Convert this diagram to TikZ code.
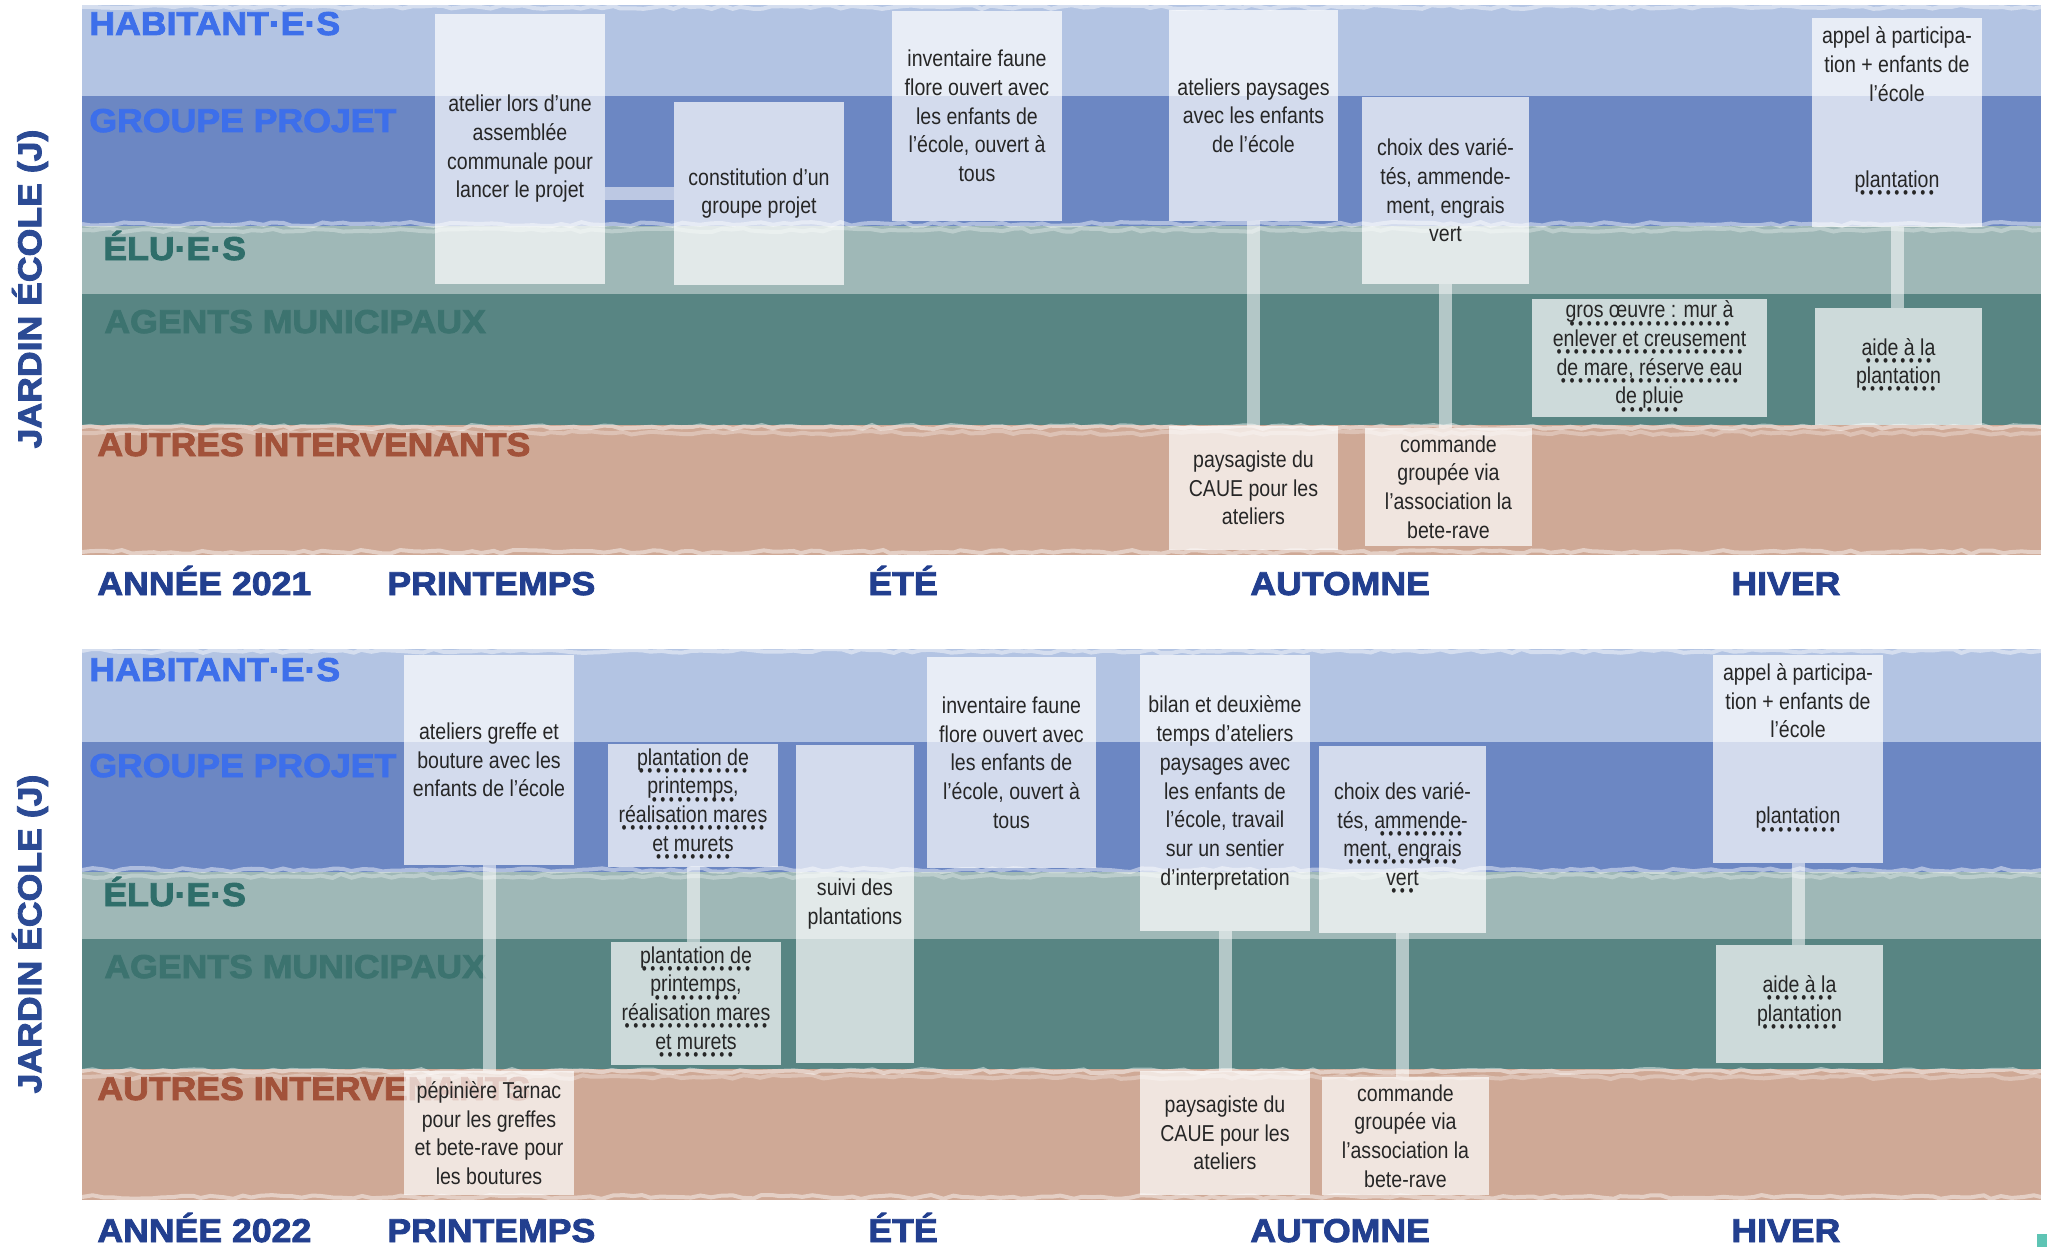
\documentclass[tikz,border=0pt]{standalone}
\usepackage{fontspec}
\usepackage{xcolor}
\usepackage{tikz}
\usetikzlibrary{decorations.pathmorphing}

\setmainfont{Liberation Sans}
\newfontfamily\boxfont[FakeStretch=0.85]{Liberation Sans}
\newfontfamily\labfont[FakeStretch=1.08,FakeBold=2.6]{Liberation Sans Bold}

\definecolor{habband}{HTML}{B3C4E3}
\definecolor{grpband}{HTML}{6C87C3}
\definecolor{eluband}{HTML}{9FB8B7}
\definecolor{agtband}{HTML}{588583}
\definecolor{autband}{HTML}{CFA996}
\definecolor{blueword}{HTML}{3D6FEA}
\definecolor{eluword}{HTML}{2F6E6A}
\definecolor{agtword}{HTML}{3C736F}
\definecolor{autword}{HTML}{A2523A}
\definecolor{season}{HTML}{223F8F}
\definecolor{sidetitle}{HTML}{2B4A94}
\definecolor{boxtext}{HTML}{262626}
\definecolor{cornermark}{HTML}{5EC4B4}

% pointillés sous le texte
\newsavebox\ulbox
\newcommand\dotul[1]{\sbox\ulbox{#1}\rlap{\lower5.6pt\hbox to\wd\ulbox{\cleaders\hbox to 4.3pt{\hss\fontsize{8.5}{8.5}\selectfont •\hss}\hfill}}\usebox\ulbox}
% ligne vide finale
\newcommand\padline{\rule[-1pt]{0pt}{1pt}}

\begin{document}
\begin{tikzpicture}[x=0.5pt,y=-0.5pt,
  box/.style={fill=white,fill opacity=.7,text opacity=1,text=boxtext,align=center,inner sep=0pt,
    font=\boxfont\fontsize{11.5}{14.35}\selectfont},
  wh/.style 2 args={minimum width=#1*0.5pt,minimum height=#2*0.5pt},
  link/.style={draw=white,draw opacity=.55,line width=6.5pt},
  band/.style={font=\labfont\fontsize{16.5}{18}\selectfont,anchor=base west,inner sep=0pt},
  side/.style={font=\labfont\fontsize{16.5}{18}\selectfont,text=sidetitle,rotate=90,inner sep=0pt},
  rough/.style={draw=white,draw opacity=.45,line width=2pt,decorate,
    decoration={random steps,segment length=5pt,amplitude=1pt}}]
\pgfmathsetseed{11}
\useasboundingbox (0,0) rectangle (2047,1247);

% ---- 2021 ----
\fill[habband] (82,5) rectangle (2041,96);
\fill[grpband] (82,96) rectangle (2041,226);
\fill[eluband] (82,226) rectangle (2041,294);
\fill[agtband] (82,294) rectangle (2041,425);
\fill[autband] (82,425) rectangle (2041,555);
\draw[rough] (82,7) -- (2041,7);
\draw[rough] (82,224) -- (2041,224);
\draw[rough,draw opacity=.3] (82,230) -- (2041,230);
\draw[rough] (82,427) -- (2041,427);
\draw[rough,draw opacity=.3] (82,433) -- (2041,433);
\draw[rough] (82,552) -- (2041,552);

\node[band,text=blueword] (hab1) at (89,35) {HABITANT·E·S};
\node[band,text=blueword] (grp1) at (89,132) {GROUPE PROJET};
\node[band,text=eluword] (elu1) at (103,260) {ÉLU·E·S};
\node[band,text=agtword] (agt1) at (104,333) {AGENTS MUNICIPAUX};
\node[band,text=autword] (aut1) at (97,456) {AUTRES INTERVENANTS};
\node[band,text=season] (an1) at (97,595) {ANNÉE 2021};
\node[band,text=season] (pri1) at (387,595) {PRINTEMPS};
\node[band,text=season] (ete1) at (868,595) {ÉTÉ};
\node[band,text=season] (aut1s) at (1250,595) {AUTOMNE};
\node[band,text=season] (hiv1) at (1731,595) {HIVER};
\node[side] (jar1) at (30,289) {JARDIN ÉCOLE (J)};

\node[box,wh={170}{270}] (atelier) at (520,149) {atelier lors d’une\\assemblée\\communale pour\\lancer le projet};
\node[box,wh={170}{183}] (constit) at (759,193.5) {constitution d’un\\groupe projet};
\node[box,wh={170}{210}] (invent1) at (977,116) {inventaire faune\\flore ouvert avec\\les enfants de\\l’école, ouvert à\\tous};
\node[box,wh={169}{211}] (paysag1) at (1253.5,115.5) {ateliers paysages\\avec les enfants\\de l’école};
\node[box,wh={167}{187}] (choix1) at (1445.5,190.5) {choix des varié-\\tés, ammende-\\ment, engrais\\vert};
\node[box,wh={169}{124}] (caue1) at (1253.5,488) {paysagiste du\\CAUE pour les\\ateliers};
\node[box,wh={167}{118}] (cmd1) at (1448.5,487) {commande\\groupée via\\l’association la\\bete-rave};
\node[box,wh={235}{118}] (gros) at (1649.5,358) {\dotul{gros œuvre : mur à}\\\dotul{enlever et creusement}\\\dotul{de mare, réserve eau}\\\dotul{de pluie}};
\node[box,wh={170}{209}] (appel1) at (1897,122.5) {appel à participa-\\tion + enfants de\\l’école\\\strut\\\strut\\\dotul{plantation}\\\padline};
\node[box,wh={167}{117}] (aide1) at (1898.5,366.5) {\dotul{aide à la}\\\dotul{plantation}};

\draw[link] (atelier.east |- constit.west) -- (constit.west);
\draw[link] (paysag1.south) -- (paysag1.south |- caue1.north);
\draw[link] (choix1.south) -- (choix1.south |- cmd1.north);
\draw[link] (appel1.south) -- (appel1.south |- aide1.north);

% ---- 2022 ----
\fill[habband] (82,649) rectangle (2041,742);
\fill[grpband] (82,742) rectangle (2041,872);
\fill[eluband] (82,872) rectangle (2041,939);
\fill[agtband] (82,939) rectangle (2041,1069);
\fill[autband] (82,1069) rectangle (2041,1200);
\draw[rough] (82,651) -- (2041,651);
\draw[rough] (82,870) -- (2041,870);
\draw[rough,draw opacity=.3] (82,876) -- (2041,876);
\draw[rough] (82,1071) -- (2041,1071);
\draw[rough,draw opacity=.3] (82,1077) -- (2041,1077);
\draw[rough] (82,1197) -- (2041,1197);

\node[band,text=blueword] (hab2) at (89,681) {HABITANT·E·S};
\node[band,text=blueword] (grp2) at (89,777) {GROUPE PROJET};
\node[band,text=eluword] (elu2) at (103,906) {ÉLU·E·S};
\node[band,text=agtword] (agt2) at (104,978) {AGENTS MUNICIPAUX};
\node[band,text=autword] (aut2) at (97,1100) {AUTRES INTERVENANTS};
\node[band,text=season] (an2) at (97,1242) {ANNÉE 2022};
\node[band,text=season] (pri2) at (387,1242) {PRINTEMPS};
\node[band,text=season] (ete2) at (868,1242) {ÉTÉ};
\node[band,text=season] (aut2s) at (1250,1242) {AUTOMNE};
\node[band,text=season] (hiv2) at (1731,1242) {HIVER};
\node[side] (jar2) at (30,934) {JARDIN ÉCOLE (J)};

\node[box,wh={170}{210}] (greffe) at (489,760) {ateliers greffe et\\bouture avec les\\enfants de l’école};
\node[box,wh={170}{124}] (pepin) at (489,1133) {pépinière Tarnac\\pour les greffes\\et bete-rave pour\\les boutures};
\node[box,wh={170}{123}] (plant1) at (693,805.5) {\dotul{plantation de}\\\dotul{printemps,}\\\dotul{réalisation mares}\\\dotul{et murets}};
\node[box,wh={170}{123}] (plant2) at (696,1003.5) {\dotul{plantation de}\\\dotul{printemps,}\\\dotul{réalisation mares}\\\dotul{et murets}};
\node[box,wh={118}{318}] (suivi) at (855,904) {suivi des\\plantations};
\node[box,wh={169}{211}] (invent2) at (1011.5,762.5) {inventaire faune\\flore ouvert avec\\les enfants de\\l’école, ouvert à\\tous};
\node[box,wh={170}{276}] (bilan) at (1225,793) {bilan et deuxième\\temps d’ateliers\\paysages avec\\les enfants de\\l’école, travail\\sur un sentier\\d’interpretation};
\node[box,wh={167}{187}] (choix2) at (1402.5,839.5) {choix des varié-\\tés, \dotul{ammende-}\\\dotul{ment, engrais}\\\dotul{vert}};
\node[box,wh={170}{124}] (caue2) at (1225,1133) {paysagiste du\\CAUE pour les\\ateliers};
\node[box,wh={167}{118}] (cmd2) at (1405.5,1136) {commande\\groupée via\\l’association la\\bete-rave};
\node[box,wh={170}{208}] (appel2) at (1798,759) {appel à participa-\\tion + enfants de\\l’école\\\strut\\\strut\\\dotul{plantation}\\\padline};
\node[box,wh={167}{118}] (aide2) at (1799.5,1004) {\dotul{aide à la}\\\dotul{plantation}};

\draw[link] (greffe.south) -- (greffe.south |- pepin.north);
\draw[link] (plant1.south) -- (plant1.south |- plant2.north);
\draw[link] (bilan.south) -- (bilan.south |- caue2.north);
\draw[link] (choix2.south) -- (choix2.south |- cmd2.north);
\draw[link] (appel2.south) -- (appel2.south |- aide2.north);

\fill[cornermark] (2037,1234) rectangle (2047,1247);
\end{tikzpicture}
\end{document}
